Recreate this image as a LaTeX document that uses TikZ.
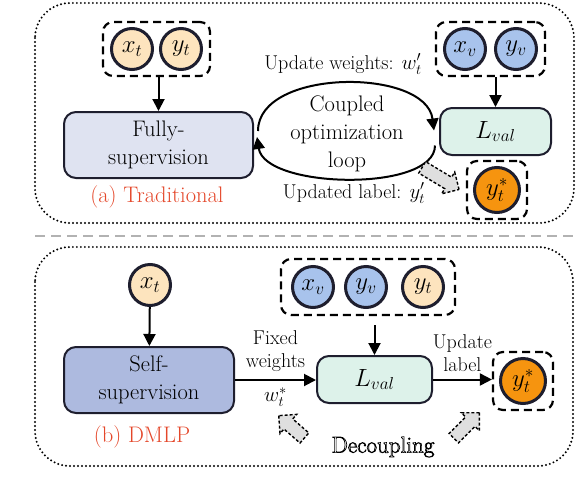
\documentclass[tikz,border=0pt]{standalone}
\usepackage{amsmath}
\usetikzlibrary{arrows.meta,shapes.arrows,fit}
\definecolor{peche}{HTML}{FDE4BE}
\definecolor{bleuc}{HTML}{A8C3EC}
\definecolor{orangey}{HTML}{F6940F}
\definecolor{lavclair}{HTML}{DFE3F1}
\definecolor{lavfonce}{HTML}{ADBADF}
\definecolor{menthe}{HTML}{DDF2EA}
\definecolor{rouge}{HTML}{E4472A}
\definecolor{traitfonce}{HTML}{1E1E2E}
\newcommand{\contour}[1]{\special{pdf:literal direct 1 Tr 0.7 w}#1\special{pdf:literal direct 0 Tr}}

\begin{document}
\begin{tikzpicture}[x=1pt,y=-1pt,
    font=\fontsize{22.5}{28}\selectfont,
    rond/.style={circle, draw=traitfonce, line width=3pt, minimum size=41pt, inner sep=0pt, font=\fontsize{26}{30}\selectfont},
    boite/.style={draw=traitfonce, line width=2pt, rounded corners=12pt, align=center, inner sep=0pt},
    tirets/.style={draw, line width=2.2pt, dash pattern=on 8pt off 5pt, rounded corners=10pt},
    fleche/.style={line width=2pt, -{Triangle[length=12pt,width=12pt]}},
    cadre/.style={line width=2.2pt, dash pattern=on 0pt off 4pt, line cap=round, rounded corners=35pt},
    creux/.style={single arrow, draw, dash pattern=on 3pt off 2pt, fill=gray!25, line width=1.4pt, inner xsep=0pt, inner ysep=6pt, single arrow head extend=6pt},
    petit/.style={font=\fontsize{20}{23}\selectfont, align=center},
    titre/.style={text=rouge}
  ]
  \useasboundingbox (0,0) rectangle (576,488);

  % Cadres et separation
  \draw[cadre] (35,3) rectangle (574,223);
  \draw[cadre] (35,247) rectangle (573,466);
  \draw[gray!60, line width=2.5pt, dash pattern=on 10pt off 6pt] (35,236) -- (576,236);

  % (a) Methode traditionnelle
  \node[rond, fill=peche] (xt) at (132,49) {$x_t$};
  \node[rond, fill=peche] (yt) at (181,49) {$y_t$};
  \node[tirets, fit=(xt)(yt), inner xsep=7pt, inner ysep=5pt] (dt) {};
  \node[boite, fill=lavclair, minimum width=189pt, minimum height=66pt] (fully) at (158.5,145) {Fully-\\supervision};
  \draw[fleche] (dt.south -| fully) -- (fully.north);
  \node[titre] (lbla) at (157,197) {(a) Traditional};

  \node[rond, fill=bleuc] (xv) at (465,49) {$x_v$};
  \node[rond, fill=bleuc] (yv) at (516,49) {$y_v$};
  \node[tirets, fit=(xv)(yv), inner xsep=7pt, inner ysep=5pt] (dv) {};
  \node[boite, fill=menthe, minimum width=111pt, minimum height=47pt, font=\fontsize{25}{30}\selectfont] (lval) at (495.5,131.5) {$L_{val}$};
  \draw[fleche] (dv.south -| lval) -- (lval.north);

  \node[rond, fill=orangey, minimum size=45pt] (ys) at (497,190) {$y_t^*$};
  \node[tirets, fit=(ys), inner xsep=6pt, inner ysep=5pt] (dys) {};

  % Boucle couplee
  \node[align=center] (boucle) at (347,134) {Coupled\\optimization\\loop};
  \draw[fleche] ([shift={(4,-14)}]fully.east) .. controls +(0,-63) and +(-8,-63) .. ([shift={(-5,-1)}]lval.west);
  \draw[fleche] ([shift={(-4,14)}]lval.west) .. controls +(0,47) and +(8,52) .. ([shift={(3,-8)}]fully.east);
  \node[petit] (lblw) at (343,64) {Update weights: $w_t'$};
  \node[petit] (lbly) at (354,193) {Updated label: $y_t'$};
  \node[creux, minimum height=43pt, rotate=-31, anchor=tip] (creux1) at ([xshift=-6pt]dys.west) {};

  % (b) DMLP
  \node[rond, fill=peche] (xt2) at (150,285) {$x_t$};
  \node[boite, fill=lavfonce, minimum width=170pt, minimum height=66pt] (self) at (149,380) {Self-\\supervision};
  \draw[fleche] (xt2) -- (self);
  \node[titre] (lblb) at (142,437) {(b) DMLP};

  \node[rond, fill=bleuc] (xv2) at (313,287) {$x_v$};
  \node[rond, fill=bleuc] (yv2) at (366,287) {$y_v$};
  \node[rond, fill=peche] (yt2) at (423,287) {$y_t$};
  \node[tirets, fit=(xv2)(yt2), inner xsep=10pt, inner ysep=6pt] (db) {};
  \node[boite, fill=menthe, minimum width=115pt, minimum height=47pt, font=\fontsize{25}{30}\selectfont] (lval2) at (374.5,379.5) {$L_{val}$};
  \draw[fleche, shorten <=9pt] (db.south -| lval2) -- (lval2.north);

  \node[rond, fill=orangey, minimum size=45pt] (ys2) at (523,381) {$y_t^*$};
  \node[tirets, fit=(ys2), inner xsep=6pt, inner ysep=5pt] (dys2) {};

  \draw[fleche] (self.east) -- (self.east -| lval2.west)
    node[petit, midway, above=4pt] (fixe) {Fixed\\weights}
    node[petit, midway, below=3pt] (wstar) {$w_t^*$};
  \draw[fleche] (lval2.east) -- (lval2.east -| dys2.west)
    node[petit, midway, above=4pt] (maj) {Update\\label};

  % Decouplage
  \node[font=\fontsize{23}{28}\selectfont] (decoup) at (383,447) {\contour{Decoupling}};
  \node[creux, minimum height=34pt, rotate=139, anchor=tip] (creux2) at (278,415) {};
  \node[creux, minimum height=36pt, rotate=45, anchor=tip] (creux3) at (480,412) {};
\end{tikzpicture}
\end{document}
